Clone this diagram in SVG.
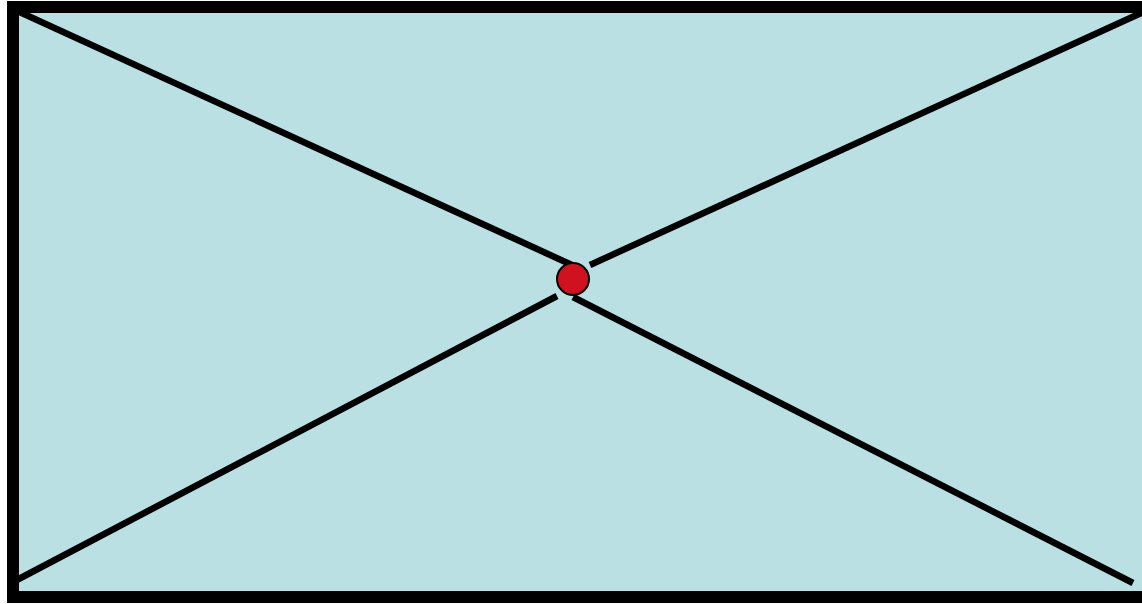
<svg xmlns="http://www.w3.org/2000/svg" width="1142" height="604" viewBox="0 0 1142 604">
<style>
.frame{fill:#bbe0e4;stroke:#000;stroke-width:12}
.edge{stroke:#000;stroke-width:6.5;fill:none;stroke-linecap:butt}
.dot{fill:#d0111f;stroke:#000;stroke-width:2}
</style>
<rect width="1142" height="604" fill="#fff"/>
<g id="frame"><rect class="frame" x="13" y="7" width="1140" height="590"/></g>
<g id="connectors">
<line class="edge" x1="13" y1="9" x2="572" y2="265"/>
<line class="edge" x1="1152" y1="8" x2="590" y2="265"/>
<line class="edge" x1="13" y1="582" x2="557" y2="296"/>
<line class="edge" x1="573" y1="297" x2="1133" y2="583"/>
</g>
<g id="center"><circle class="dot" cx="573" cy="279" r="16"/></g>
</svg>
